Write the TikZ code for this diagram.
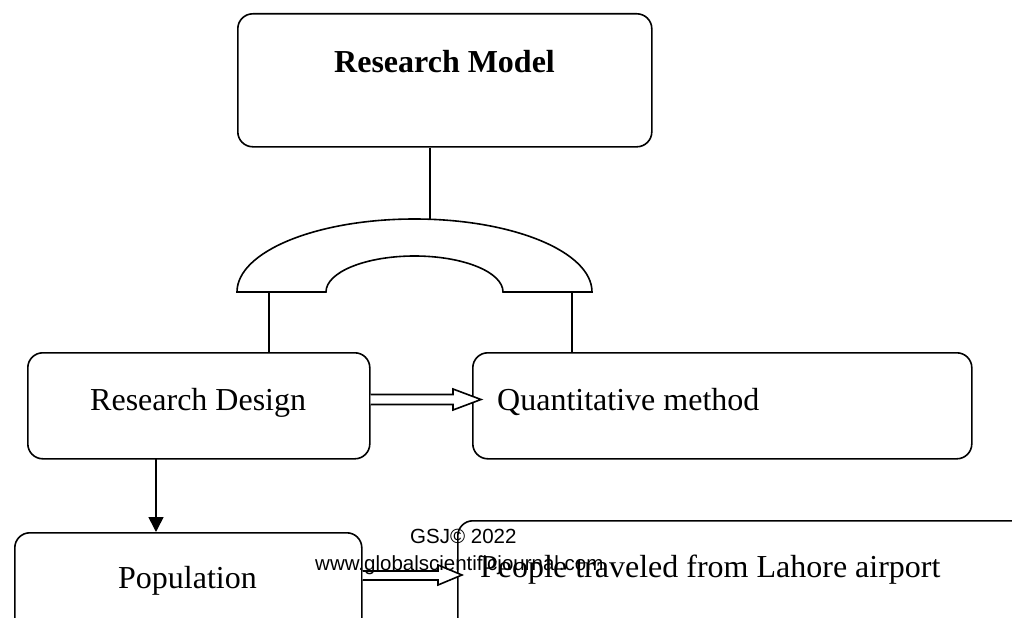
\documentclass[tikz,border=0pt]{standalone}
\usepackage{fontspec}
\setmainfont{Liberation Serif}
\newfontfamily\wmfont{Liberation Sans}
\usetikzlibrary{arrows.meta}
\begin{document}
\begin{tikzpicture}[x=1pt,y=-1pt,
  box/.style={draw, line width=1.6pt, rounded corners=15pt, anchor=north west, inner sep=0pt},
  lbl/.style={anchor=base west, inner sep=0pt, font=\fontsize{32}{38}\selectfont},
  wm/.style={anchor=base west, inner sep=0pt, font=\wmfont\fontsize{20.5}{24}\selectfont},
  conn/.style={line width=1.6pt},
  hollow/.style={draw, line width=1.6pt, fill=white, line join=miter}]
\useasboundingbox (0,0) rectangle (1012,618);
\clip (0,0) rectangle (1012,618);
\fill[white] (0,0) rectangle (1012,618);

% boxes
\node[box, minimum width=414pt, minimum height=133pt] (rm) at (237,13) {};
\node[box, minimum width=342pt, minimum height=106pt] (rd) at (27,352) {};
\node[box, minimum width=499pt, minimum height=106pt] (qm) at (472,352) {};
\node[box, minimum width=347pt, minimum height=120pt] (pop) at (14,532) {};
\node[box, minimum width=600pt, minimum height=130pt] (ppl) at (457,520) {};

% texts
\node[lbl, font=\fontsize{32}{38}\selectfont\bfseries] (trm) at (334,73) {Research Model};
\node[lbl] (trd) at (90,410) {Research Design};
\node[lbl] (tqm) at (497,410) {Quantitative method};
\node[lbl] (tpop) at (118,588) {Population};
\node[lbl] (tppl) at (480,577) {People traveled from Lahore airport};

% arch
\draw[line width=1.6pt, fill=white] (237,292)
  arc[start angle=180, end angle=0, x radius=177.5pt, y radius=73pt]
  -- (503,292)
  arc[start angle=0, end angle=180, x radius=88.5pt, y radius=36pt]
  -- cycle;
\coordinate (archtop) at (430,219.3);
\coordinate (archL) at (269,292);
\coordinate (archR) at (572,292);

% connectors
\draw[conn] (archtop |- rm.south) -- (archtop);
\draw[conn] (archL) -- (archL |- rd.north);
\draw[conn] (archR) -- (archR |- qm.north);
\draw[conn, -{Triangle[width=15pt,length=15pt]}] (156,458) coordinate (dstart) -- (dstart |- pop.north);

% hollow double arrows
\path (rd.east) coordinate (a1);
\draw[hollow] (rd.east |- 0,394.5) -- (453,394.5) -- (453,389) -- (481,399.5) -- (453,410) -- (453,404.5) -- (rd.east |- 0,404.5);
\draw[hollow] (pop.east |- 0,571) -- (438,571) -- (438,565) -- (462,575) -- (438,585) -- (438,580) -- (pop.east |- 0,580);

% watermark
\node[wm] (gsj) at (410,543) {GSJ© 2022};
\node[wm] (www) at (315,570) {www.globalscientificjournal.com};
\end{tikzpicture}
\end{document}
